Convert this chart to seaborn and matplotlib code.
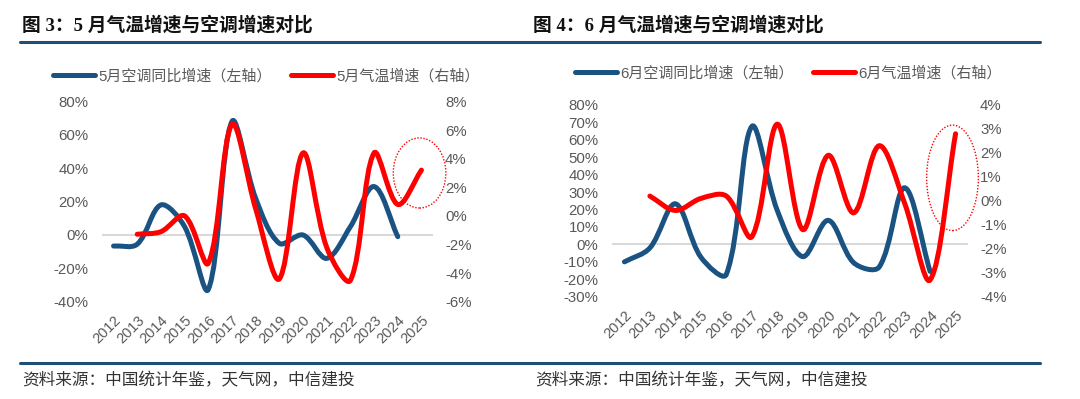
import numpy as np
import matplotlib
matplotlib.use("Agg")
import matplotlib.pyplot as plt
from matplotlib.path import Path
from matplotlib.patches import PathPatch, Ellipse
from matplotlib.lines import Line2D
from matplotlib.ticker import FuncFormatter
import seaborn as sns

# 数据
years = [str(y) for y in range(2012, 2026)]

# 图3：5月
may_ac = [-6.6, -5.5, 18, 5, -32.6, 68, 22, -5, 0, -14, 5, 29, -1, np.nan]
may_temp = [np.nan, -1.28, -1.1, 0.0, -3.3, 6.4, 0.5, -4.4, 4.4, -2.2, -4.5, 4.4, 0.8, 3.2]

# 图4：6月
jun_ac = [-10, -2, 23.3, -7.3, -17.2, 67.7, 19.5, -7, 13.8, -10.5, -13, 32.5, -15.5, np.nan]
jun_temp = [np.nan, 0.2, -0.4, 0.1, 0.2, -1.5, 3.2, -1.2, 1.9, -0.5, 2.3, -0.1, -3.3, 2.8]

BLUE = "#1A5282"
RED = "#FF0000"
GRAY = "#595959"
RULE = "#1F4E79"

sns.set_theme(style="white")
plt.rcParams["font.family"] = ["Liberation Sans", "Noto Sans CJK SC", "DejaVu Sans"]
plt.rcParams["axes.unicode_minus"] = False

W, H = 1080, 399


def smooth_path(ax, values):
    # 平滑曲线（类似 Excel 的平滑线），只用于绘制；按屏幕距离缩放控制点
    bb = ax.get_window_extent()
    x0, x1 = ax.get_xlim()
    y0, y1 = ax.get_ylim()
    scale = np.array([bb.width / (x1 - x0), bb.height / (y1 - y0)])
    xs = np.arange(len(values), dtype=float)
    ys = np.asarray(values, dtype=float)
    ok = ~np.isnan(ys)
    pts = np.column_stack([xs[ok], ys[ok]])
    n = len(pts)

    def dist(a, b):
        return np.hypot(*((b - a) * scale))

    verts = [pts[0]]
    codes = [Path.MOVETO]
    for i in range(n - 1):
        p0 = pts[i - 1] if i > 0 else pts[i]
        p1, p2 = pts[i], pts[i + 1]
        p3 = pts[i + 2] if i + 2 < n else pts[i + 1]
        d01, d12, d23 = dist(p0, p1), dist(p1, p2), dist(p2, p3)
        f1 = d12 / (d01 + d12) / 3
        f2 = d12 / (d12 + d23) / 3
        verts += [p1 + (p2 - p0) * f1, p2 - (p3 - p1) * f2, p2]
        codes += [Path.CURVE4] * 3
    return Path(verts, codes)


def draw_panel(rect, ac, temp, ylim_l, step_l, ylim_r, step_r, ell):
    ax = fig.add_axes(rect)
    ax2 = ax.twinx()
    for a in (ax, ax2):
        sns.despine(ax=a, left=True, bottom=True, right=True, top=True)
        a.set_facecolor("none")
        a.grid(False)
    ax.set_xlim(-0.5, len(years) - 0.5)
    ax.set_ylim(*ylim_l)
    ax2.set_ylim(*ylim_r)
    ax.set_yticks(np.arange(ylim_l[0], ylim_l[1] + 0.1, step_l))
    ax2.set_yticks(np.arange(ylim_r[0], ylim_r[1] + 0.01, step_r))
    ax.yaxis.set_major_formatter(FuncFormatter(lambda v, p: f"{v:.0f}%"))
    ax2.yaxis.set_major_formatter(FuncFormatter(lambda v, p: f"{v:.0f}%"))
    ax.set_xticks(range(len(years)))
    ax.set_xticklabels(years, rotation=45, ha="right", rotation_mode="anchor")
    ax.tick_params(axis="x", length=0, pad=8, labelsize=10.5, labelcolor=GRAY)
    ax.tick_params(axis="y", length=0, pad=9.5, labelsize=10.8, labelcolor=GRAY)
    ax2.tick_params(axis="y", length=0, pad=8.5, labelsize=10.8, labelcolor=GRAY)

    ax.axhline(0, color="#D9D9D9", lw=1.5, zorder=1)
    ax.add_patch(PathPatch(smooth_path(ax, ac), fill=False, edgecolor=BLUE,
                           lw=3.6, capstyle="round", joinstyle="round", zorder=3))
    ax2.add_patch(PathPatch(smooth_path(ax2, temp), fill=False, edgecolor=RED,
                            lw=3.6, capstyle="round", joinstyle="round", zorder=3))
    ax2.add_patch(Ellipse(ell[:2], ell[2], ell[3], fill=False, edgecolor=RED,
                          lw=1.0, ls=(0, (1, 1.2)), clip_on=False, zorder=4))
    return ax


fig = plt.figure(figsize=(W / 100, H / 100), dpi=100)

draw_panel([101.7 / W, 1 - 301.8 / H, 331.6 / W, 200.4 / H], may_ac, may_temp,
           (-40, 80), 20, (-6, 8), 2, (12.92, 3.0, 2.22, 4.9))
draw_panel([611.7 / W, 1 - 296.7 / H, 356.6 / W, 191.7 / H], jun_ac, jun_temp,
           (-30, 80), 10, (-4, 4), 1, (12.88, 0.96, 2.03, 4.4))

# 图例
for x0, y0, m in [(53, 76, "5"), (575, 73, "6")]:
    handles = [Line2D([], [], color=BLUE, lw=3.6),
               Line2D([], [], color=RED, lw=3.6)]
    labels = [f"{m}月空调同比增速（左轴）", f"{m}月气温增速（右轴）"]
    leg = fig.legend(handles, labels, loc="center left",
                     bbox_to_anchor=(x0 / W, 1 - y0 / H), ncol=2,
                     frameon=False, borderpad=0, borderaxespad=0,
                     handlelength=2.8, handletextpad=0.2, columnspacing=1.3,
                     fontsize=10.8)
    for t in leg.get_texts():
        t.set_color(GRAY)

# 标题与分隔线
title_font = ["Liberation Serif", "Noto Sans CJK SC"]
fig.text(22 / W, 1 - 25 / H, "图 3：5 月气温增速与空调增速对比", fontsize=13.5,
         fontweight="bold", family=title_font, va="center", ha="left", color="#111111")
fig.text(533 / W, 1 - 25 / H, "图 4：6 月气温增速与空调增速对比", fontsize=13.5,
         fontweight="bold", family=title_font, va="center", ha="left", color="#111111")

for yy in (42, 363):
    fig.add_artist(Line2D([20 / W, 1040 / W], [1 - yy / H] * 2,
                          transform=fig.transFigure, color=RULE, lw=2.2))

src = "资料来源：中国统计年鉴，天气网，中信建投"
fig.text(22 / W, 1 - 381 / H, src, fontsize=12, family=["Noto Sans CJK SC"],
         va="center", ha="left", color="#333333")
fig.text(535 / W, 1 - 381 / H, src, fontsize=12, family=["Noto Sans CJK SC"],
         va="center", ha="left", color="#333333")

fig.savefig("out.png", dpi=100)
